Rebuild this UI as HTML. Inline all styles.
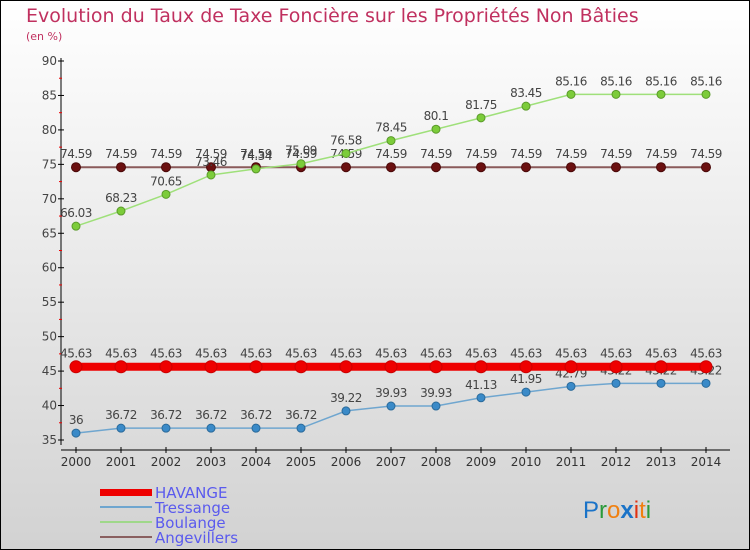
<!DOCTYPE html>
<html><head><meta charset="utf-8"><style>
body{margin:0}
svg{display:block;font-family:"DejaVu Sans","Liberation Sans",sans-serif}
</style></head><body>
<svg id="c" width="750" height="550">
<defs><linearGradient id="bg" x1="0" y1="0" x2="0" y2="1"><stop offset="0" stop-color="#ffffff"/><stop offset="1" stop-color="#d2d2d2"/></linearGradient></defs>
<rect x="0.5" y="0.5" width="749" height="549" fill="url(#bg)" stroke="#000"/>
<text x="26" y="22" font-size="19" fill="#c0305f">Evolution du Taux de Taxe Foncière sur les Propriétés Non Bâties</text>
<text x="26" y="40" font-size="11" fill="#c0305f">(en %)</text>
<g id="axes"></g><g id="series"></g>
<g>
<rect x="100" y="489" width="52" height="7" fill="#e00"/>
<text x="155" y="498" font-size="15" fill="#5a5aee">HAVANGE</text>
<rect x="100" y="506" width="52" height="2" fill="#6fa6cf"/>
<text x="155" y="513" font-size="15" fill="#5a5aee">Tressange</text>
<rect x="100" y="521" width="52" height="2" fill="#9fd88a"/>
<text x="155" y="528" font-size="15" fill="#5a5aee">Boulange</text>
<rect x="100" y="536" width="52" height="2" fill="#8a6060"/>
<text x="155" y="543" font-size="15" fill="#5a5aee">Angevillers</text>
</g>
<text x="583" y="518" font-size="24" font-family="Liberation Sans,sans-serif"><tspan fill="#1a73c8">P</tspan><tspan fill="#2a9a3a">r</tspan><tspan fill="#f08010">o</tspan><tspan fill="#1a73c8" font-weight="bold">x</tspan><tspan fill="#e03010">i</tspan><tspan fill="#f08010">t</tspan><tspan fill="#2a9a3a">i</tspan></text>
</svg>
<script>
const years=[2000,2001,2002,2003,2004,2005,2006,2007,2008,2009,2010,2011,2012,2013,2014];
const yTicks=[35,40,45,50,55,60,65,70,75,80,85,90];
const havange=[45.63,45.63,45.63,45.63,45.63,45.63,45.63,45.63,45.63,45.63,45.63,45.63,45.63,45.63,45.63];
const tressange=[36,36.72,36.72,36.72,36.72,36.72,39.22,39.93,39.93,41.13,41.95,42.79,43.22,43.22,43.22];
const boulange=[66.03,68.23,70.65,73.46,74.34,75.09,76.58,78.45,80.1,81.75,83.45,85.16,85.16,85.16,85.16];
const angevillers=[74.59,74.59,74.59,74.59,74.59,74.59,74.59,74.59,74.59,74.59,74.59,74.59,74.59,74.59,74.59];
const NS="http://www.w3.org/2000/svg";
const X=i=>76+i*45;
const Y=v=>440-(v-35)*(379/55);
function mk(t,a,p){const e=document.createElementNS(NS,t);for(const k in a)e.setAttribute(k,a[k]);p.appendChild(e);return e;}
const ax=document.getElementById('axes'),se=document.getElementById('series');
let l=mk('line',{x1:61,y1:58,x2:61,y2:445,stroke:'#000'},ax);


l=mk('line',{x1:61,y1:450,x2:730,y2:450,stroke:'#000'},ax);


yTicks.forEach(v=>{
 mk('line',{x1:58,y1:Y(v),x2:64,y2:Y(v),stroke:'#000'},ax);
 if(v<90)mk('line',{x1:59,y1:Y(v+2.5),x2:62,y2:Y(v+2.5),stroke:'#e00'},ax);
 const t=mk('text',{x:57,y:Y(v)+4,'font-size':12,'text-anchor':'end',fill:'#444'},ax);t.textContent=v;
 
 
});
years.forEach((y,i)=>{
 mk('line',{x1:X(i),y1:447,x2:X(i),y2:453,stroke:'#000'},ax);
 const t=mk('text',{x:X(i),y:466,'font-size':12,'text-anchor':'middle',fill:'#333'},ax);t.textContent=y;
 
 
});
function series(vals,name,col,w,dot,dotStroke,r){
 const g=mk('g',{},se);
 
 
 mk('polyline',{points:vals.map((v,i)=>X(i)+','+Y(v)).join(' '),fill:'none',stroke:col,'stroke-width':w},g);
 vals.forEach((v,i)=>{
  const c=mk('circle',{cx:X(i),cy:Y(v),r:r,fill:dot,stroke:dotStroke,'stroke-width':1},g);
  
  
  const t=mk('text',{x:X(i),y:Y(v)-9,'font-size':12,'text-anchor':'middle',fill:'#444','letter-spacing':'-0.5'},g);t.textContent=v;
  
  
 });
}
series(angevillers,'angevillers','#8a5a5a',2,'#6b1010','#4a0808',4.5);
series(boulange,'boulange','#9fe07a',1.5,'#7ccc3a','#5a9a2a',4);
series(tressange,'tressange','#6fa6cf',1.5,'#3a8ac8','#2a6a9a',4);
series(havange,'havange','#ee0000',8,'#ee0000','#c00',6);
</script>
</body></html>
